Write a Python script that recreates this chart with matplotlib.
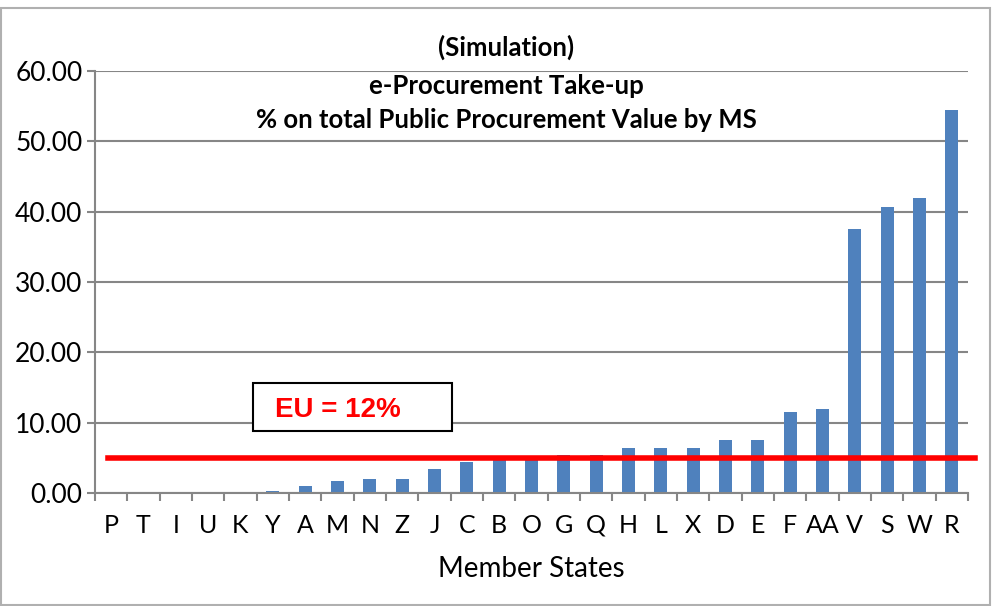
import matplotlib.pyplot as plt
from matplotlib.patches import Rectangle

plt.rcParams['font.family'] = ['Lato', 'DejaVu Sans']

states = ['P', 'T', 'I', 'U', 'K', 'Y', 'A', 'M', 'N', 'Z', 'J', 'C', 'B', 'O',
          'G', 'Q', 'H', 'L', 'X', 'D', 'E', 'F', 'AA', 'V', 'S', 'W', 'R']
takeup = [0.0, 0.0, 0.0, 0.0, 0.0, 0.3, 0.95, 1.75, 1.95, 1.95, 3.35, 4.45, 4.9, 4.9,
          5.45, 5.45, 6.45, 6.45, 6.45, 7.5, 7.5, 11.5, 11.95, 37.5, 40.7, 42.0, 54.5]
eu_line = 5.0
yticks = [0, 10, 20, 30, 40, 50, 60]

grey = '#868686'
fig = plt.figure(figsize=(9.92, 6.06), dpi=100)
ax = fig.add_axes([95/992, 1 - 493/606, 873/992, 422/606])

x = range(len(states))
ax.bar(x, takeup, width=0.4, color='#4f81bd', zorder=2)
ax.set_xlim(-0.5, len(states) - 0.5)
ax.set_ylim(0, 60)
ax.set_yticks(yticks)
ax.set_yticklabels([f'{v:.2f}' for v in yticks], fontsize=19)
ax.set_xticks(list(x))
ax.set_xticklabels(states, fontsize=18)
ax.set_xticks([i - 0.5 for i in range(len(states) + 1)], minor=True)
ax.tick_params(axis='x', which='major', length=0, pad=15)
ax.tick_params(axis='x', which='minor', length=6, color=grey, width=1.5)
ax.tick_params(axis='y', length=6, color=grey, width=1.5, pad=3)
ax.grid(axis='y', color=grey, linewidth=1.5, zorder=0)
ax.set_axisbelow(True)
for side in ['top', 'right']:
    ax.spines[side].set_visible(False)
for side in ['left', 'bottom']:
    ax.spines[side].set_color(grey)
    ax.spines[side].set_linewidth(1.5)
ax.set_xlabel('Member States', fontsize=20, labelpad=14)

# EU average line, runs slightly past the right edge
ax.plot([0.015, 1.008], [eu_line, eu_line], color='red', linewidth=4,
        transform=ax.get_yaxis_transform(), clip_on=False, zorder=3)

# EU label box
fig.patches.append(Rectangle((253/992, 1 - 431/606), 199/992, 48/606,
                             transform=fig.transFigure, facecolor='white',
                             edgecolor='black', linewidth=1.5, zorder=4))
fig.text(275/992, 1 - 410/606, 'EU = 12%', color='red', fontsize=20,
         fontweight='bold', va='center', ha='left', zorder=5,
         family=['Liberation Sans'])

# title
title_lines = ['(Simulation)', 'e-Procurement Take-up',
               '% on total Public Procurement Value by MS']
for line, ypx in zip(title_lines, [47, 86, 120]):
    fig.text(506/992, 1 - ypx/606, line, ha='center', va='center',
             fontsize=18.5, fontweight='bold')

# chart border
fig.patches.append(Rectangle((1/992, 1/606), 989/992, 1 - 9/606,
                             transform=fig.transFigure, facecolor='none',
                             edgecolor='#b0b0b0', linewidth=1.5))

fig.savefig('out.png', dpi=100)
